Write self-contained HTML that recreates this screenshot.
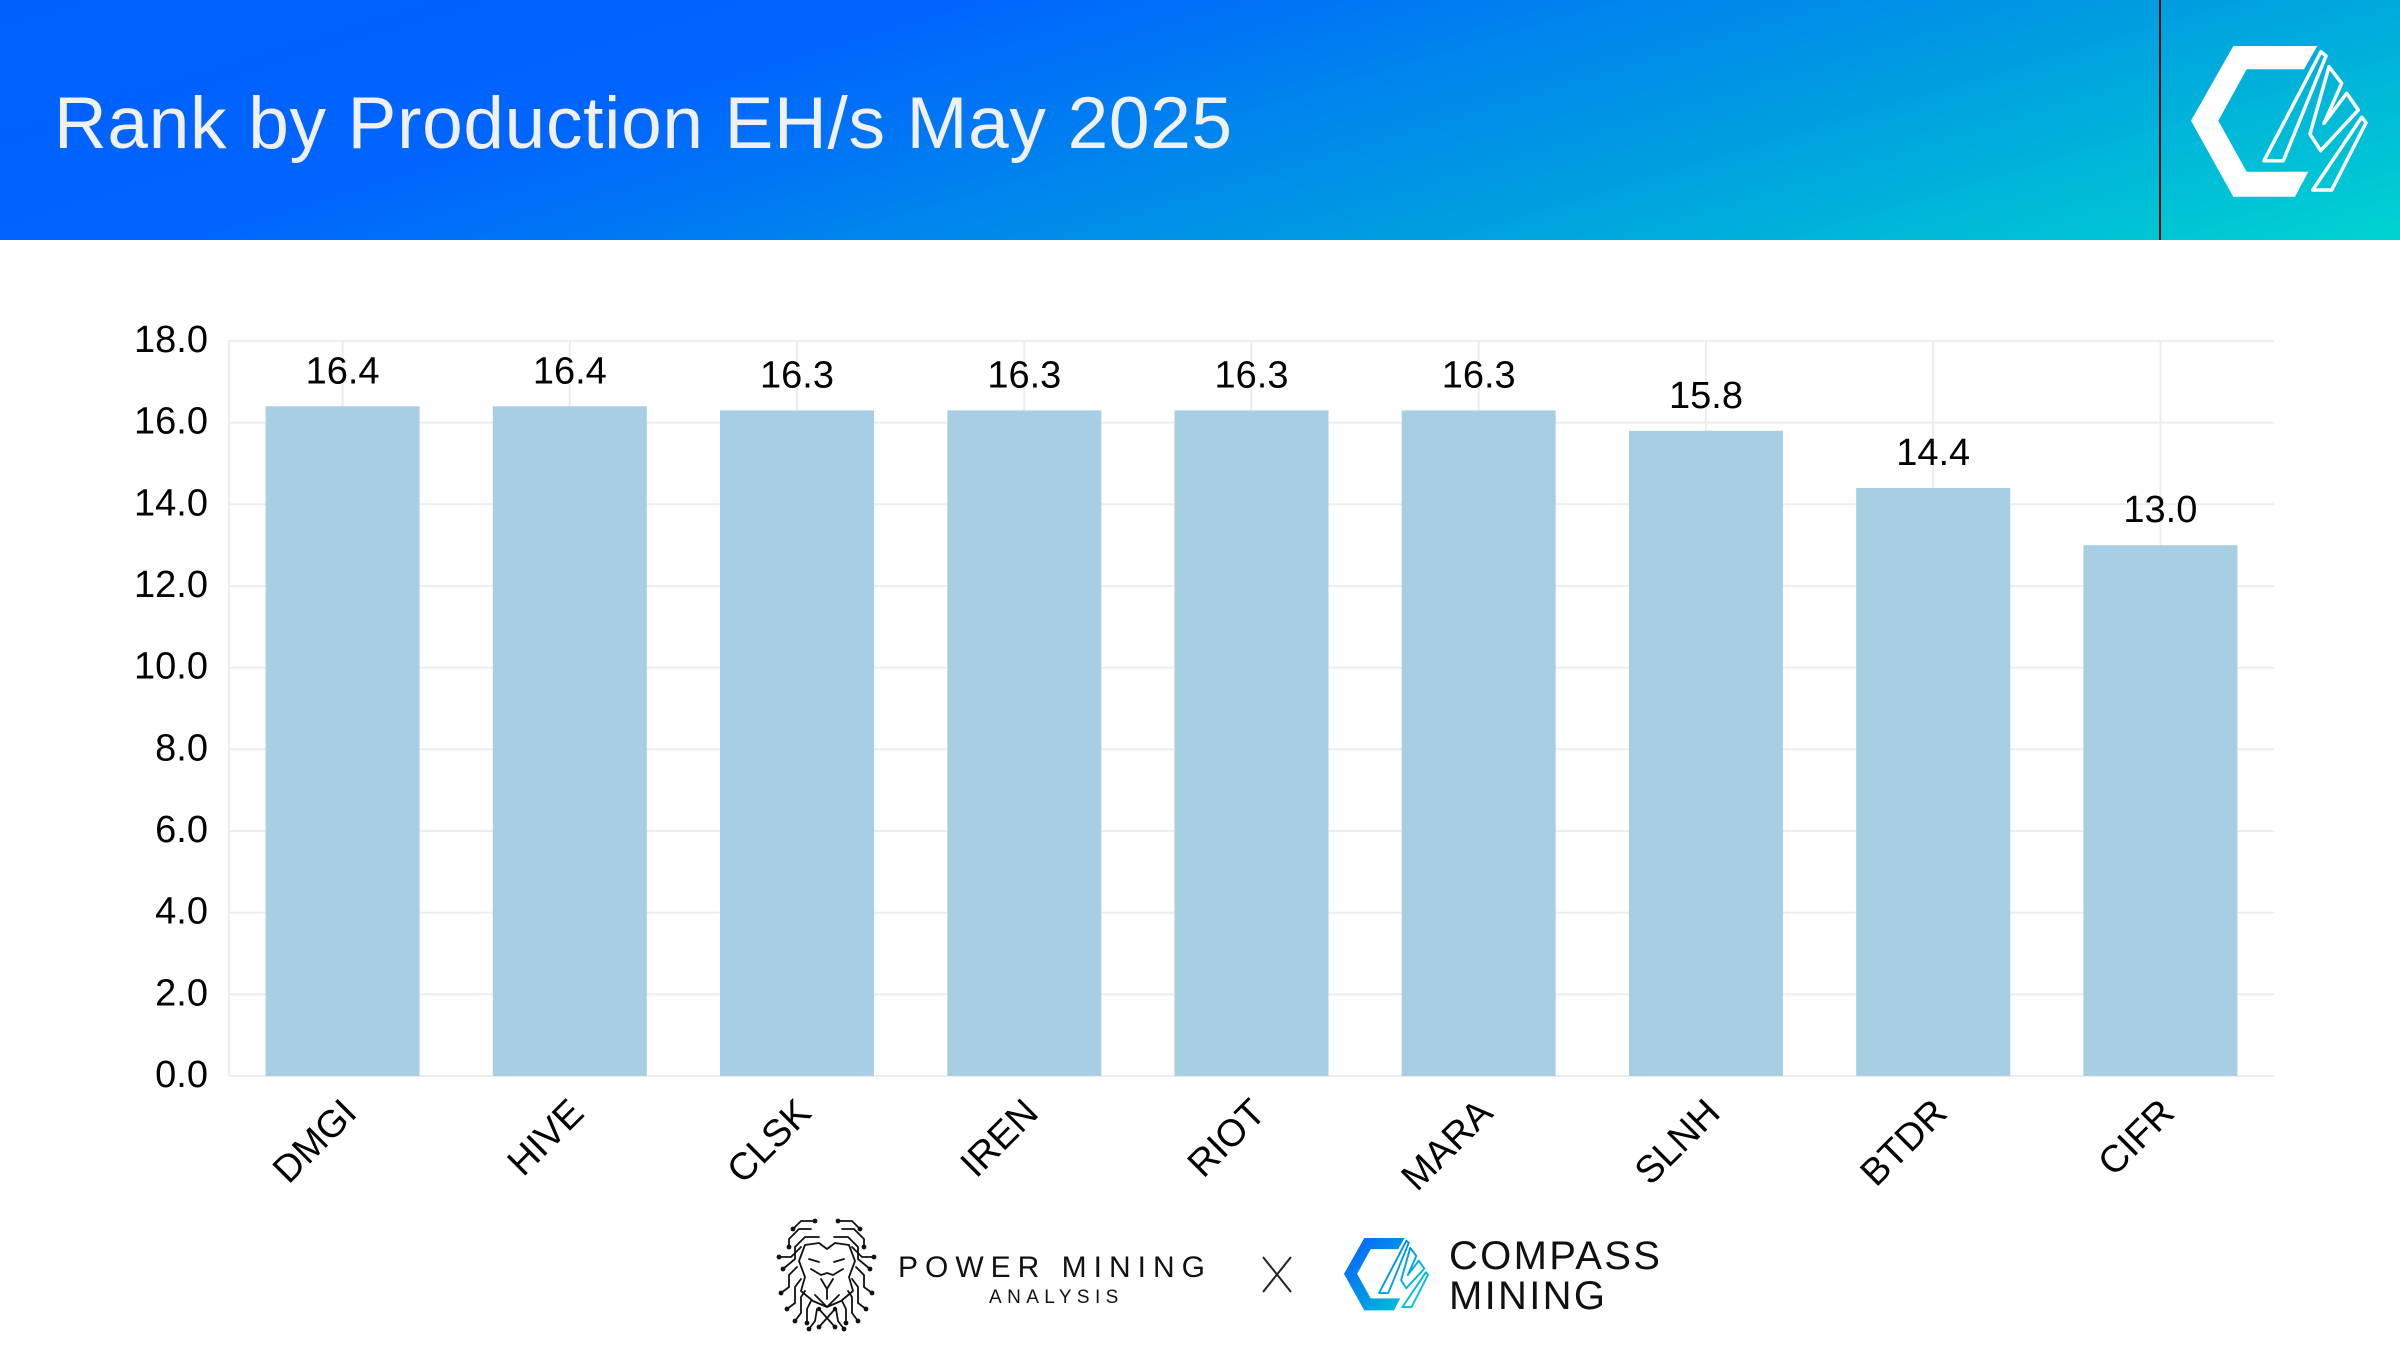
<!DOCTYPE html>
<html>
<head>
<meta charset="utf-8">
<style>
  html, body { margin: 0; padding: 0; background: #ffffff; }
  body { width: 2400px; height: 1350px; overflow: hidden; }
  svg { display: block; }
  .t { font-family: "Liberation Sans", Arial, sans-serif; }
</style>
</head>
<body>
<svg width="2400" height="1350" viewBox="0 0 2400 1350" xmlns="http://www.w3.org/2000/svg">
  <defs>
    <linearGradient id="hdr" gradientUnits="userSpaceOnUse" x1="0" y1="0" x2="264" y2="880">
      <stop offset="0" stop-color="#0061FF"/>
      <stop offset="0.30" stop-color="#0064FE"/>
      <stop offset="0.66" stop-color="#009AE2"/>
      <stop offset="1" stop-color="#00D3D0"/>
    </linearGradient>
    <linearGradient id="lg" gradientUnits="userSpaceOnUse" x1="0" y1="0" x2="176" y2="151">
      <stop offset="0" stop-color="#0A5CFF"/>
      <stop offset="0.5" stop-color="#0098E6"/>
      <stop offset="1" stop-color="#00DCC8"/>
    </linearGradient>
  </defs>

  <!-- Header -->
  <rect x="0" y="0" width="2400" height="240" fill="url(#hdr)"/>
  <rect x="2159" y="0" width="2" height="240" fill="#111111"/>
  <text class="t" x="54" y="148" font-size="73" fill="#F0F0F2" style="letter-spacing:0.7px">Rank by Production EH/s May 2025</text>

  <!-- Header logo (white) -->
  <g transform="translate(2191,46)">
    <polygon points="42.3,0 126.3,0 113,23.3 55.7,23.3 27.3,74.7 55.7,125.7 117.3,125.7 104,150.7 42.3,150.7 0,74.7" fill="#ffffff"/>
    <g fill="none" stroke="#ffffff" stroke-width="3.5" stroke-linejoin="round">
      <polygon points="130,5.7 135,10 92.3,114.7 73,114.7"/>
      <polygon points="138,20.7 150.7,37.3 133,77.3 155.7,47.3 167.3,64 129.7,104.7 119,88"/>
      <polygon points="170.7,71.3 175,76.7 140.7,144 121.7,144"/>
    </g>
  </g>

  <!-- Gridlines -->
  <g stroke="#EDEDED" stroke-width="2" fill="none">
    <line x1="229" y1="341" x2="2274" y2="341"/>
    <line x1="229" y1="422.7" x2="2274" y2="422.7"/>
    <line x1="229" y1="504.3" x2="2274" y2="504.3"/>
    <line x1="229" y1="586" x2="2274" y2="586"/>
    <line x1="229" y1="667.7" x2="2274" y2="667.7"/>
    <line x1="229" y1="749.3" x2="2274" y2="749.3"/>
    <line x1="229" y1="831" x2="2274" y2="831"/>
    <line x1="229" y1="912.7" x2="2274" y2="912.7"/>
    <line x1="229" y1="994.3" x2="2274" y2="994.3"/>
    <line x1="229" y1="1076" x2="2274" y2="1076"/>
    <line x1="229" y1="341" x2="229" y2="1076"/>
    <line x1="342.6" y1="341" x2="342.6" y2="1076"/>
    <line x1="569.8" y1="341" x2="569.8" y2="1076"/>
    <line x1="797" y1="341" x2="797" y2="1076"/>
    <line x1="1024.3" y1="341" x2="1024.3" y2="1076"/>
    <line x1="1251.5" y1="341" x2="1251.5" y2="1076"/>
    <line x1="1478.7" y1="341" x2="1478.7" y2="1076"/>
    <line x1="1706" y1="341" x2="1706" y2="1076"/>
    <line x1="1933.2" y1="341" x2="1933.2" y2="1076"/>
    <line x1="2160.4" y1="341" x2="2160.4" y2="1076"/>
  </g>

  <!-- Y tick labels -->
  <g class="t" font-size="38" fill="#000000" text-anchor="end">
    <text x="208" y="352">18.0</text>
    <text x="208" y="433.7">16.0</text>
    <text x="208" y="515.3">14.0</text>
    <text x="208" y="597">12.0</text>
    <text x="208" y="678.7">10.0</text>
    <text x="208" y="760.3">8.0</text>
    <text x="208" y="842">6.0</text>
    <text x="208" y="923.7">4.0</text>
    <text x="208" y="1005.3">2.0</text>
    <text x="208" y="1087">0.0</text>
  </g>

  <!-- Bars -->
  <g fill="#A7CEE2">
    <rect x="265.6" y="406.3" width="154" height="669.7"/>
    <rect x="492.8" y="406.3" width="154" height="669.7"/>
    <rect x="720" y="410.4" width="154" height="665.6"/>
    <rect x="947.3" y="410.4" width="154" height="665.6"/>
    <rect x="1174.5" y="410.4" width="154" height="665.6"/>
    <rect x="1401.7" y="410.4" width="154" height="665.6"/>
    <rect x="1629" y="430.8" width="154" height="645.2"/>
    <rect x="1856.2" y="488" width="154" height="588"/>
    <rect x="2083.4" y="545.2" width="154" height="530.8"/>
  </g>

  <!-- Value labels -->
  <g class="t" font-size="38" fill="#000000" text-anchor="middle">
    <text x="342.6" y="383.3">16.4</text>
    <text x="569.8" y="383.3">16.4</text>
    <text x="797" y="387.4">16.3</text>
    <text x="1024.3" y="387.4">16.3</text>
    <text x="1251.5" y="387.4">16.3</text>
    <text x="1478.7" y="387.4">16.3</text>
    <text x="1706" y="407.8">15.8</text>
    <text x="1933.2" y="465">14.4</text>
    <text x="2160.4" y="522.2">13.0</text>
  </g>

  <!-- X labels -->
  <g class="t" font-size="38" fill="#000000" text-anchor="end">
    <text transform="translate(358.6,1115) rotate(-45)">DMGI</text>
    <text transform="translate(585.8,1115) rotate(-45)">HIVE</text>
    <text transform="translate(813,1115) rotate(-45)">CLSK</text>
    <text transform="translate(1040.3,1115) rotate(-45)">IREN</text>
    <text transform="translate(1267.5,1115) rotate(-45)">RIOT</text>
    <text transform="translate(1494.7,1115) rotate(-45)">MARA</text>
    <text transform="translate(1722,1115) rotate(-45)">SLNH</text>
    <text transform="translate(1949.2,1115) rotate(-45)">BTDR</text>
    <text transform="translate(2176.4,1115) rotate(-45)">CIFR</text>
  </g>

  <!-- Footer: Power Mining lion -->
  <g transform="translate(775,1217)" fill="none" stroke="#111111" stroke-width="1.8" stroke-linejoin="round" stroke-linecap="round">
    <path d="M30,28 L44,26 L52,32 L60,26 L74,28 L80,44 L74,60 L78,74 L66,84 L52,90 L38,84 L26,74 L30,60 L24,44 Z"/>
    <path d="M34,42 L44,45 M59,45 L69,42"/>
    <path d="M36,52 L46,58 L52,56 L58,58 L68,52"/>
    <path d="M46,62 L52,72 L58,62 M52,72 L52,82 M40,78 L52,90 L64,78"/>
    <path d="M44,92 L60,110 M60,92 L44,110"/>
    <g>
      <path d="M40,4 L26,4 L18,12"/>
      <path d="M36,12 L24,12 L14,22 L14,30"/>
      <path d="M44,20 L30,20 L20,30 L20,42 L8,52"/>
      <path d="M26,30 L16,40 L4,40"/>
      <path d="M22,50 L14,58 L14,70 L6,76"/>
      <path d="M26,62 L20,70 L20,86 L12,92"/>
      <path d="M30,74 L26,80 L26,96 L20,104"/>
      <path d="M36,84 L32,92 L32,106"/>
      <path d="M42,92 L40,104 L34,112"/>
    </g>
    <g transform="translate(103,0) scale(-1,1)">
      <path d="M40,4 L26,4 L18,12"/>
      <path d="M36,12 L24,12 L14,22 L14,30"/>
      <path d="M44,20 L30,20 L20,30 L20,42 L8,52"/>
      <path d="M26,30 L16,40 L4,40"/>
      <path d="M22,50 L14,58 L14,70 L6,76"/>
      <path d="M26,62 L20,70 L20,86 L12,92"/>
      <path d="M30,74 L26,80 L26,96 L20,104"/>
      <path d="M36,84 L32,92 L32,106"/>
      <path d="M42,92 L40,104 L34,112"/>
    </g>
    <g fill="#111111" stroke="none">
      <circle cx="40" cy="4" r="2.4"/><circle cx="18" cy="12" r="2.4"/>
      <circle cx="14" cy="30" r="2.4"/><circle cx="8" cy="52" r="2.4"/>
      <circle cx="4" cy="40" r="2.4"/><circle cx="6" cy="76" r="2.4"/>
      <circle cx="12" cy="92" r="2.4"/><circle cx="20" cy="104" r="2.4"/>
      <circle cx="32" cy="106" r="2.4"/><circle cx="34" cy="112" r="2.4"/>
      <circle cx="63" cy="4" r="2.4"/><circle cx="85" cy="12" r="2.4"/>
      <circle cx="89" cy="30" r="2.4"/><circle cx="95" cy="52" r="2.4"/>
      <circle cx="99" cy="40" r="2.4"/><circle cx="97" cy="76" r="2.4"/>
      <circle cx="91" cy="92" r="2.4"/><circle cx="83" cy="104" r="2.4"/>
      <circle cx="71" cy="106" r="2.4"/><circle cx="69" cy="112" r="2.4"/>
      <circle cx="44" cy="110" r="2.4"/><circle cx="60" cy="110" r="2.4"/>
      <circle cx="44" cy="92" r="2.2"/><circle cx="60" cy="92" r="2.2"/>
    </g>
  </g>
  <text class="t" x="898" y="1277" font-size="30" fill="#111111" style="letter-spacing:7px">POWER MINING</text>
  <text class="t" x="989" y="1303" font-size="19" fill="#111111" style="letter-spacing:5.4px">ANALYSIS</text>

  <!-- X mark -->
  <g stroke="#222222" stroke-width="2">
    <line x1="1263" y1="1257" x2="1291" y2="1292"/>
    <line x1="1291" y1="1257" x2="1263" y2="1292"/>
  </g>

  <!-- Compass Mining logo (gradient) -->
  <g transform="translate(1344,1238) scale(0.48)">
    <polygon points="42.3,0 126.3,0 113,23.3 55.7,23.3 27.3,74.7 55.7,125.7 117.3,125.7 104,150.7 42.3,150.7 0,74.7" fill="url(#lg)"/>
    <g fill="none" stroke="url(#lg)" stroke-width="4" stroke-linejoin="round">
      <polygon points="130,5.7 135,10 92.3,114.7 73,114.7"/>
      <polygon points="138,20.7 150.7,37.3 133,77.3 155.7,47.3 167.3,64 129.7,104.7 119,88"/>
      <polygon points="170.7,71.3 175,76.7 140.7,144 121.7,144"/>
    </g>
  </g>
  <text class="t" x="1449" y="1269" font-size="40" fill="#111111" style="letter-spacing:2.3px">COMPASS</text>
  <text class="t" x="1449" y="1309" font-size="40" fill="#111111" style="letter-spacing:2.3px">MINING</text>
</svg>
</body>
</html>
